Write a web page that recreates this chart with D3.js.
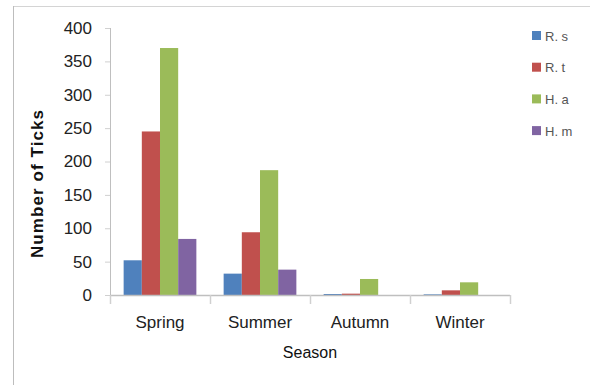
<!DOCTYPE html>
<html>
<head>
<meta charset="utf-8">
<script src="https://cdn.jsdelivr.net/npm/d3@7"></script>
<style>
  html, body { margin: 0; padding: 0; background: #fff; }
  svg { display: block; font-family: "Liberation Sans", Arial, sans-serif; }
</style>
</head>
<body>
<svg id="chart" width="590" height="385"></svg>
<script>
// Tick counts per season for each species
const seasons = ["Spring", "Summer", "Autumn", "Winter"];
const species = ["R. s", "R. t", "H. a", "H. m"];
const colors = ["#4f81bd", "#c0504d", "#9bbb59", "#8064a2"];
const valuesRs = [52, 32, 1.5, 1];
const valuesRt = [245, 94, 2, 7];
const valuesHa = [370, 187, 24, 19];
const valuesHm = [84, 38, 0, 0];
const yTicks = [0, 50, 100, 150, 200, 250, 300, 350, 400];

const seriesValues = [valuesRs, valuesRt, valuesHa, valuesHm];
const rows = seasons.map((s, i) => ({
  season: s,
  bars: species.map((sp, j) => ({ species: sp, value: seriesValues[j][i], color: colors[j] }))
}));

const svg = d3.select("#chart");
const plot = { left: 110, right: 510, top: 28, bottom: 295 };
const axisColor = "#bfbfbf";

// outer frame (top and left edges)
svg.append("line").attr("x1", 13).attr("x2", 590).attr("y1", 6.5).attr("y2", 6.5)
  .attr("stroke", "#d4d4d4").attr("stroke-width", 1);
svg.append("line").attr("x1", 13.5).attr("x2", 13.5).attr("y1", 6).attr("y2", 385)
  .attr("stroke", "#bdbdbd").attr("stroke-width", 1);

const x0 = d3.scaleBand().domain(seasons).range([plot.left, plot.right]).paddingInner(0).paddingOuter(0);
const x1 = d3.scaleBand().domain(species).range([0, x0.bandwidth()]).paddingInner(0).paddingOuter(0.75);
const y = d3.scaleLinear().domain([0, 400]).range([plot.bottom, plot.top]);

// bars
const groups = svg.append("g").selectAll("g").data(rows).join("g")
  .attr("transform", d => `translate(${x0(d.season)},0)`);
groups.selectAll("rect").data(d => d.bars).join("rect")
  .attr("x", d => x1(d.species))
  .attr("width", x1.bandwidth())
  .attr("y", d => y(d.value))
  .attr("height", d => y(0) - y(d.value))
  .attr("fill", d => d.color);

// y axis
const yAxis = svg.append("g").attr("transform", `translate(${plot.left},0)`)
  .call(d3.axisLeft(y).tickValues(yTicks).tickSize(5).tickPadding(13).tickFormat(d3.format("d")));
yAxis.select(".domain").attr("stroke", axisColor).attr("d", `M0.5,${plot.top}V${plot.bottom}`);
yAxis.selectAll(".tick line").attr("stroke", "#d0d0d0");
yAxis.selectAll(".tick text").attr("font-size", 17).attr("fill", "#222")
  .attr("font-family", "'Liberation Sans', Arial, sans-serif");

// x axis: line with ticks at category boundaries
const xAxis = svg.append("g").attr("transform", `translate(0,${plot.bottom})`);
xAxis.append("line").attr("x1", plot.left).attr("x2", plot.right).attr("y1", 0.5).attr("y2", 0.5)
  .attr("stroke", axisColor).attr("stroke-width", 1.5);
const boundaries = seasons.map(s => x0(s)).concat([x0(seasons[seasons.length - 1]) + x0.bandwidth()]);
xAxis.selectAll(".bound").data(boundaries).join("line")
  .attr("x1", d => d + 0.5).attr("x2", d => d + 0.5).attr("y1", 0).attr("y2", 9)
  .attr("stroke", "#d0d0d0").attr("stroke-width", 1.5);
xAxis.selectAll(".cat").data(seasons).join("text")
  .attr("x", d => x0(d) + x0.bandwidth() / 2)
  .attr("y", 33)
  .attr("text-anchor", "middle")
  .attr("font-size", 17).attr("fill", "#222")
  .text(d => d);

// axis titles
svg.append("text").attr("x", 310).attr("y", 358).attr("text-anchor", "middle")
  .attr("font-size", 16).attr("fill", "#111").text("Season");
svg.append("text")
  .attr("transform", "translate(43,184) rotate(-90)")
  .attr("text-anchor", "middle")
  .attr("font-size", 17).attr("font-weight", "bold").attr("fill", "#111")
  .attr("textLength", 148).attr("lengthAdjust", "spacing")
  .text("Number of Ticks");

// legend
const legend = svg.append("g").attr("transform", "translate(532,31)");
const item = legend.selectAll("g").data(species).join("g")
  .attr("transform", (d, i) => `translate(0,${i * 31.7})`);
item.append("rect").attr("width", 9).attr("height", 9).attr("fill", (d, i) => colors[i]);
item.append("text").attr("x", 13).attr("y", 9.5).attr("font-size", 13).attr("fill", "#555").text(d => d);
</script>
</body>
</html>
